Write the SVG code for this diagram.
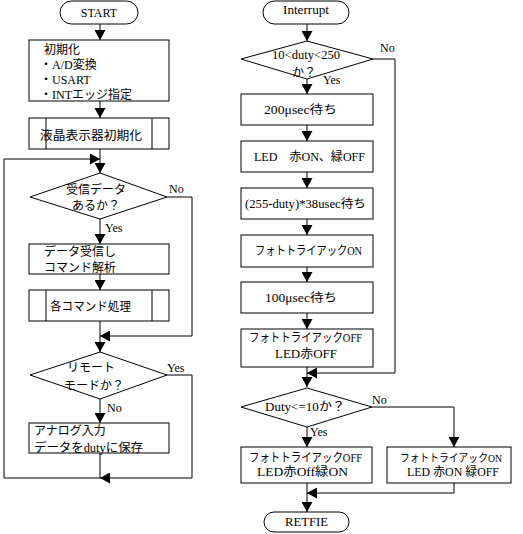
<svg xmlns="http://www.w3.org/2000/svg" width="523" height="534" viewBox="0 0 523 534">
<defs>
<marker id="ah" markerUnits="userSpaceOnUse" markerWidth="10" markerHeight="11" refX="10" refY="5.5" orient="auto">
<path d="M0,0 L10,5.5 L0,11 z" fill="#000"/>
</marker>
<style>
.s{fill:#fff;stroke:#000;stroke-width:1}
.c{fill:none;stroke:#000;stroke-width:1;marker-end:url(#ah)}
.n{fill:none;stroke:#000;stroke-width:1}
text{font-family:"Liberation Serif","Noto Sans CJK JP",serif;font-size:12px;fill:#000}
.m{text-anchor:middle}
</style>
</defs>
<rect width="523" height="534" fill="#fff"/>
<g id="connectors">
<path class="c" d="M100,24 V40"/>
<path class="c" d="M100,101 V118"/>
<path class="c" d="M100,149 V173"/>
<path class="c" d="M100,478 H4 V159 H100"/>
<path class="c" d="M167,197 H192 V336 H100"/>
<path class="c" d="M100,219 V244"/>
<path class="c" d="M100,274 V290"/>
<path class="c" d="M100,321 V352"/>
<path class="c" d="M100,399 V423"/>
<path class="n" d="M100,453 V478"/>
<path class="c" d="M167,375 H192 V478 H100"/>
<path class="c" d="M307,24 V41"/>
<path class="c" d="M307,79 V94"/>
<path class="c" d="M307,125 V141"/>
<path class="c" d="M307,172 V188"/>
<path class="c" d="M307,219 V235"/>
<path class="c" d="M307,267 V282"/>
<path class="c" d="M307,313 V329"/>
<path class="c" d="M307,367 V387"/>
<path class="c" d="M373,59 H395 V373 H307"/>
<path class="c" d="M307,427 V447"/>
<path class="c" d="M372,407 H454 V447"/>
<path class="c" d="M454,483 V493 H307"/>
<path class="c" d="M307,483 V512"/>
</g>
<g id="start">
<rect class="s" x="60" y="1" width="78" height="23" rx="11.5"/>
<text class="m" x="99" y="17">START</text>
</g>
<g id="init">
<rect class="s" x="29" y="40" width="140" height="61"/>
<text x="44" y="54">初期化</text>
<text x="40" y="69">・A/D変換</text>
<text x="40" y="84">・USART</text>
<text x="40" y="99">・INTエッジ指定</text>
</g>
<g id="lcdinit">
<rect class="s" x="29" y="118" width="140" height="31"/>
<line class="n" x1="46" y1="118" x2="46" y2="149"/>
<line class="n" x1="152" y1="118" x2="152" y2="149"/>
<text x="40" y="140" textLength="102" lengthAdjust="spacingAndGlyphs">液晶表示器初期化</text>
</g>
<g id="recv">
<polygon class="s" points="100,173 167,197 100,219 30,197"/>
<text class="m" x="96" y="194">受信データ</text>
<text class="m" x="96" y="210">あるか？</text>
<text x="169" y="193">No</text>
<text x="105" y="232">Yes</text>
</g>
<g id="parse">
<rect class="s" x="29" y="244" width="140" height="30"/>
<text x="44" y="256">データ受信し</text>
<text x="44" y="272">コマンド解析</text>
</g>
<g id="cmd">
<rect class="s" x="29" y="290" width="140" height="31"/>
<line class="n" x1="46" y1="290" x2="46" y2="321"/>
<line class="n" x1="152" y1="290" x2="152" y2="321"/>
<text x="50" y="311" textLength="81" lengthAdjust="spacingAndGlyphs">各コマンド処理</text>
</g>
<g id="remote">
<polygon class="s" points="100,352 167,375 100,399 30,375"/>
<text class="m" x="91" y="372">リモート</text>
<text class="m" x="94" y="390">モードか？</text>
<text x="167" y="372">Yes</text>
<text x="107" y="412">No</text>
</g>
<g id="analog">
<rect class="s" x="29" y="423" width="140" height="30"/>
<text x="34" y="435">アナログ入力</text>
<text x="34" y="452" textLength="109" lengthAdjust="spacingAndGlyphs">データをdutyに保存</text>
</g>
<g id="interrupt">
<rect class="s" x="263" y="1" width="86" height="23" rx="11.5"/>
<text x="283" y="14" textLength="46" lengthAdjust="spacingAndGlyphs">Interrupt</text>
</g>
<g id="dutyrange">
<polygon class="s" points="307,41 373,59 307,79 241,59"/>
<text x="272" y="59" textLength="68" lengthAdjust="spacingAndGlyphs">10&lt;duty&lt;250</text>
<text x="292" y="77">か？</text>
<text x="380" y="52">No</text>
<text x="323" y="84">Yes</text>
</g>
<g id="wait200">
<rect class="s" x="241" y="94" width="132" height="31"/>
<text x="264" y="114" textLength="73" lengthAdjust="spacingAndGlyphs">200μsec待ち</text>
</g>
<g id="ledred">
<rect class="s" x="241" y="141" width="132" height="31"/>
<text x="254" y="161" textLength="111" lengthAdjust="spacingAndGlyphs">LED　赤ON、緑OFF</text>
</g>
<g id="waitduty">
<rect class="s" x="241" y="188" width="132" height="31"/>
<text x="245" y="208" textLength="121" lengthAdjust="spacingAndGlyphs">(255-duty)*38usec待ち</text>
</g>
<g id="triacon">
<rect class="s" x="241" y="235" width="132" height="32"/>
<text x="255" y="255" textLength="107" lengthAdjust="spacingAndGlyphs">フォトトライアックON</text>
</g>
<g id="wait100">
<rect class="s" x="241" y="282" width="132" height="31"/>
<text x="265" y="302" textLength="72" lengthAdjust="spacingAndGlyphs">100μsec待ち</text>
</g>
<g id="triacoff">
<rect class="s" x="241" y="329" width="132" height="38"/>
<text x="249" y="342" textLength="113" lengthAdjust="spacingAndGlyphs">フォトトライアックOFF</text>
<text x="275" y="358" textLength="62" lengthAdjust="spacingAndGlyphs">LED赤OFF</text>
</g>
<g id="dutylow">
<polygon class="s" points="307,388 372,407 307,427 241,407"/>
<text x="265" y="411" textLength="80" lengthAdjust="spacingAndGlyphs">Duty&lt;=10か？</text>
<text x="372" y="404">No</text>
<text x="310" y="436">Yes</text>
</g>
<g id="offgreen">
<rect class="s" x="241" y="447" width="131" height="36"/>
<text x="249" y="462" textLength="113" lengthAdjust="spacingAndGlyphs">フォトトライアックOFF</text>
<text x="257" y="476" textLength="91" lengthAdjust="spacingAndGlyphs">LED赤Off緑ON</text>
</g>
<g id="onred">
<rect class="s" x="387" y="447" width="124" height="36"/>
<text x="400" y="462" style="font-size:11px" textLength="102" lengthAdjust="spacingAndGlyphs">フォトトライアックON</text>
<text x="407" y="476" textLength="92" lengthAdjust="spacingAndGlyphs">LED 赤ON 緑OFF</text>
</g>
<g id="retfie">
<rect class="s" x="264" y="512" width="85" height="20" rx="10"/>
<text x="285" y="526" textLength="43" lengthAdjust="spacingAndGlyphs">RETFIE</text>
</g>
</svg>
